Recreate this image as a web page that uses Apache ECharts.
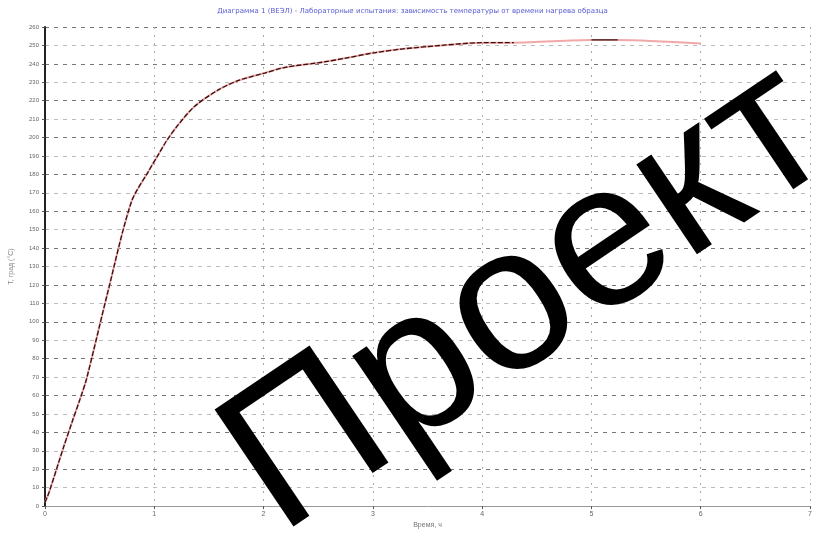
<!DOCTYPE html>
<html>
<head>
<meta charset="utf-8">
<script src="https://cdn.jsdelivr.net/npm/echarts@6/dist/echarts.min.js"></script>
<style>
html, body { margin: 0; padding: 0; background: #fff; }
#graphFrame { width: 825px; height: 534px; }
</style>
</head>
<body>
<div id="graphFrame"></div>
<script>
// измеренная кривая (часы, °C)
var timeHours = [0, 0.04, 0.17, 0.25, 0.32, 0.38, 0.57, 0.79, 0.95, 1.04, 1.11, 1.22, 1.37, 1.59, 1.77, 2.01, 2.19, 2.55, 2.74, 3.01, 3.26, 3.62, 4.01, 4.29];
var tempValues = [2, 8, 32, 46, 58, 69, 115, 165, 182, 191, 198, 207, 217, 226, 231, 235, 238, 241, 243, 246, 248, 250, 251.5, 251.5];
// хвост кривой (светлая линия)
var tailHours = [4.29, 5.0, 5.24, 6.0];
var tailValues = [251.5, 253, 253, 251];
// короткий тёмный отрезок
var segHours = [5.0, 5.24];
var segValues = [253, 253];

var xTicks = ['0', '1', '2', '3', '4', '5', '6', '7'];
var chartTitle = 'Диаграмма 1 (ВЕЭЛ) - Лабораторные испытания: зависимость температуры от времени нагрева образца';
var yName = 'Т, град (°С)';
var xName = 'Время, ч';

function toPairs(xs, ys){
    let arr = [];
    for(let i = 0, len = xs.length; i < len; i++){
        arr.push([xs[i], ys[i]]);
    }
    return arr;
}

var pinkLine = toPairs(timeHours, tempValues).concat(toPairs(tailHours, tailValues).slice(1));

var option = {
    animation: false,
    title: {
        text: chartTitle,
        left: 'center',
        top: 3,
        textStyle: { color: '#5a5ad0', fontSize: 7, fontWeight: 'normal', fontFamily: 'DejaVu Sans' }
    },
    grid: { left: 43, right: 15, top: 27, bottom: 21, containLabel: false },
    xAxis: {
        type: 'value',
        min: 0, max: 7, interval: 1,
        name: xName,
        nameLocation: 'middle',
        nameGap: 14,
        nameTextStyle: { fontSize: 7, color: '#777' },
        axisLine: { lineStyle: { color: '#999', width: 1 } },
        axisTick: { show: true, length: 3, lineStyle: { color: '#555' } },
        axisLabel: { fontSize: 7, color: '#666', margin: 4,
            formatter: function(v){ return xTicks[v]; } },
        splitLine: { show: true, lineStyle: { color: '#aaa', type: [2, 6], width: 1 } }
    },
    yAxis: {
        type: 'value',
        min: 0, max: 260, interval: 10,
        name: yName,
        nameLocation: 'middle',
        nameGap: 30,
        nameTextStyle: { fontSize: 7, color: '#888' },
        axisLine: { lineStyle: { color: '#222', width: 2 } },
        axisTick: { show: true, length: 3, lineStyle: { color: '#555' } },
        axisLabel: { fontSize: 6, color: '#666', margin: 6 },
        splitLine: { show: true, lineStyle: { color: ['#777', '#bbb'], type: [4, 5], width: 1.2 } }
    },
    series: [
        {
            name: 'pink',
            type: 'line',
            data: pinkLine,
            showSymbol: false,
            smooth: 0.3,
            lineStyle: { color: '#f0a8a8', width: 2 },
            z: 2
        },
        {
            name: 'main',
            type: 'line',
            data: toPairs(timeHours, tempValues),
            showSymbol: false,
            smooth: 0.3,
            lineStyle: { color: '#3a1010', width: 1.3, type: [5, 2] },
            z: 3
        },
        {
            name: 'seg',
            type: 'line',
            data: toPairs(segHours, segValues),
            showSymbol: false,
            lineStyle: { color: '#3a1010', width: 1.3 },
            z: 3
        }
    ],
    graphic: [
        {
            type: 'text',
            x: 528, y: 300,
            rotation: 34 * Math.PI / 180,
            z: 100,
            style: {
                text: 'Проект',
                fill: '#000',
                font: 'normal 205px "Liberation Sans"',
                align: 'center',
                verticalAlign: 'middle'
            }
        }
    ]
};

var dom = document.getElementById('graphFrame');
var myChart = echarts.init(dom);
myChart.setOption(option, true);
</script>
</body>
</html>
